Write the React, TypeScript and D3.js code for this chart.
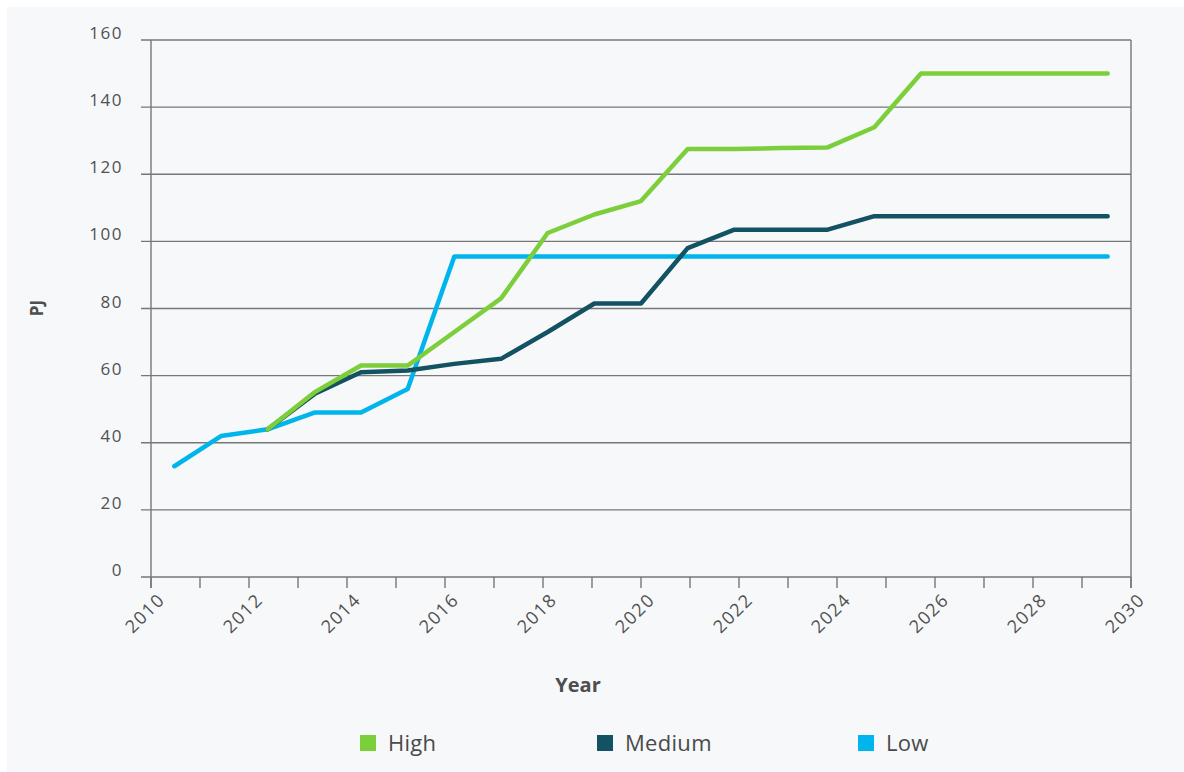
import React from "react";
import * as d3 from "d3";

// Projected demand by scenario, PJ per year (High and Medium branch off Low from 2012)
const years = d3.range(2010, 2031);
const high = [null, null, 44, 55, 63, 63, 73, 83, 102.5, 108, 112, 127.5, 127.5, 127.8, 128, 134, 150, 150, 150, 150, 150];
const medium = [null, null, 44, 54.5, 61, 61.5, 63.5, 65, 73, 81.5, 81.5, 98, 103.5, 103.5, 103.5, 107.5, 107.5, 107.5, 107.5, 107.5, 107.5];
const low = [33, 42, 44, 49, 49, 56, 95.5, 95.5, 95.5, 95.5, 95.5, 95.5, 95.5, 95.5, 95.5, 95.5, 95.5, 95.5, 95.5, 95.5, 95.5];
const yTicks = [0, 20, 40, 60, 80, 100, 120, 140, 160];
const xTickLabels = [2010, 2012, 2014, 2016, 2018, 2020, 2022, 2024, 2026, 2028, 2030];

const seriesList = [
  { name: "Low", values: low, color: "#00b5ec" },
  { name: "Medium", values: medium, color: "#135262" },
  { name: "High", values: high, color: "#7ccf3a" },
];
const legendOrder = ["High", "Medium", "Low"];

const W = 1184;
const H = 772;
const left = 151;
const right = 1131;
const top = 40;
const bottom = 577;

const gridColor = "#777777";
const textColor = "#505050";

export default function App() {
  const x = d3.scaleLinear().domain([2010, 2030]).range([left, right]);
  const xp = d3.scalePoint<number>().domain(years).range([left, right]).padding(0.5);
  const y = d3.scaleLinear().domain([0, 160]).range([bottom, top]);

  const line = (vals: (number | null)[]) =>
    d3
      .line<number | null>()
      .defined((v) => v !== null)
      .x((_, i) => xp(years[i]) as number)
      .y((v) => y(v as number))(vals) as string;

  const legendX: Record<string, number> = { High: 360, Medium: 597, Low: 858 };

  return (
    <svg
      width={W}
      height={H}
      style={{ position: "absolute", left: 0, top: 0, display: "block" }}
      fontFamily="'Open Sans', sans-serif"
    >
      <rect x={0} y={0} width={W} height={H} fill="#ffffff" />
      <rect x={7} y={7} width={W - 7} height={H - 7} fill="#f6f8fa" />

      {/* horizontal gridlines with outward ticks */}
      {yTicks.map((t) => (
        <g key={`y${t}`}>
          <line x1={left - 10} x2={right} y1={y(t)} y2={y(t)} stroke={gridColor} strokeWidth={1.4} />
          <text
            x={123}
            y={y(t) - 1}
            textAnchor="end"
            fontSize={17}
            letterSpacing={1.5}
            fill={textColor}
          >
            {t}
          </text>
        </g>
      ))}

      {/* axis frame */}
      <line x1={left} x2={left} y1={top} y2={bottom + 11} stroke={gridColor} strokeWidth={1.4} />
      <line x1={right} x2={right} y1={top} y2={bottom + 11} stroke={gridColor} strokeWidth={1.4} />

      {/* year ticks */}
      {d3.range(2010, 2031).map((yr) => (
        <line key={`t${yr}`} x1={x(yr)} x2={x(yr)} y1={bottom} y2={bottom + 11} stroke={gridColor} strokeWidth={1.4} />
      ))}
      {xTickLabels.map((yr) => (
        <text
          key={`xl${yr}`}
          transform={`translate(${x(yr) + 15},${bottom + 24}) rotate(-45)`}
          textAnchor="end"
          fontSize={18}
          letterSpacing={1.5}
          fill={textColor}
        >
          {yr}
        </text>
      ))}

      {/* scenario lines */}
      {seriesList.map((s) => (
        <path
          key={s.name}
          d={line(s.values)}
          fill="none"
          stroke={s.color}
          strokeWidth={4.5}
          strokeLinejoin="round"
          strokeLinecap="round"
        />
      ))}

      {/* axis titles */}
      <text x={578} y={692} textAnchor="middle" fontSize={20} fontWeight="bold" fill="#4e4e4e">
        Year
      </text>
      <text
        transform="translate(43,308) rotate(-90)"
        textAnchor="middle"
        fontSize={17}
        fontWeight="bold"
        fill="#4e4e4e"
      >
        PJ
      </text>

      {/* legend */}
      {legendOrder.map((name) => {
        const s = seriesList.find((d) => d.name === name)!;
        const lx = legendX[name];
        return (
          <g key={`lg${name}`}>
            <rect x={lx} y={735} width={16} height={16} fill={s.color} />
            <text
              x={lx + 28}
              y={751}
              fontSize={22}
              fontFamily="'Liberation Sans Narrow', 'Open Sans', sans-serif"
              letterSpacing={0.3}
              fill="#4a4a4a"
            >
              {name}
            </text>
          </g>
        );
      })}
    </svg>
  );
}
